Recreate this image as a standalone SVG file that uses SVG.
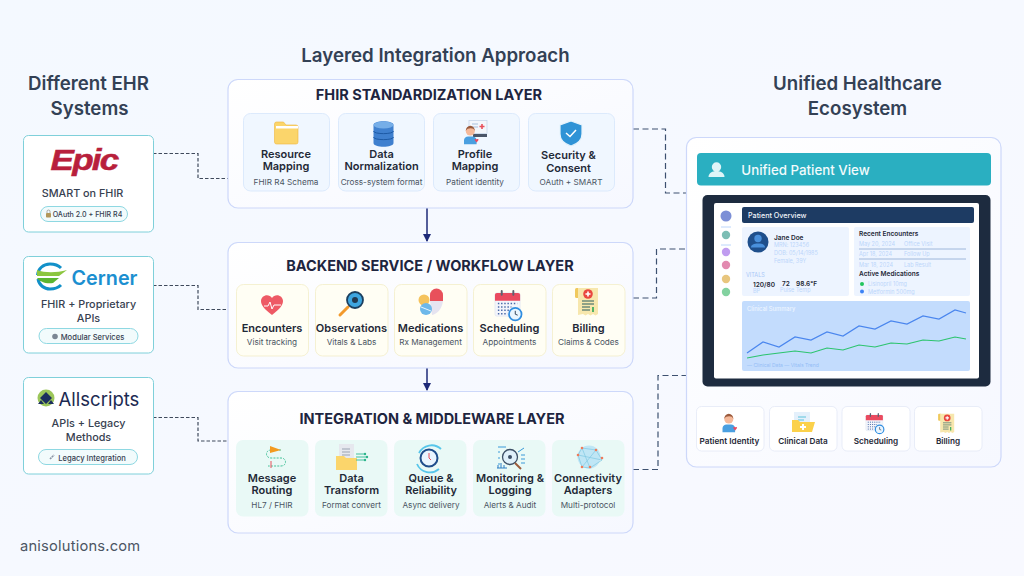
<svg xmlns="http://www.w3.org/2000/svg" xmlns:xlink="http://www.w3.org/1999/xlink" width="1024" height="576" viewBox="0 0 1024 576">
<style>
text{font-family:Inter,"Noto Sans","Liberation Sans",sans-serif;text-anchor:middle}
.h{font-size:18.700px;font-weight:600;fill:#334155}
.lt{font-size:14.500px;font-weight:700;fill:#1e2540}
.cn{font-size:11px;font-weight:600;fill:#1f2937}
.cs{font-size:8.200px;fill:#4b5563}
.ehr{font-size:10.800px;font-weight:500;fill:#374151}
.pill{font-size:7.600px;font-weight:500;fill:#374151}
.pt{fill:#fff;stroke:#7fd0da;stroke-width:1}
.pb{fill:#f2fbfc;stroke:#8ed8e2;stroke-width:1}
.layer{fill:url(#lg);stroke:#cdd8fa;stroke-width:1.200}
.cb{fill:#f0f7ff;stroke:#d5e6fb;stroke-width:.8}
.cy{fill:#fffef4;stroke:#f3edc8;stroke-width:.8}
.cg{fill:#e9f9f6}
.d{fill:none;stroke:#3f4a5c;stroke-width:1.200;stroke-dasharray:3.500 2}
.r{fill:none;stroke:#3d5170;stroke-width:1.200;stroke-dasharray:6 3.500}
.a{stroke:#1e2a78;stroke-width:1.500;fill:none}
.mut{font-size:5.500px;fill:#bcd6fb;text-anchor:start}
.dk{font-size:6.500px;font-weight:600;fill:#1f2937;text-anchor:start}
.bc{fill:#fff;stroke:#e3e9f6;stroke-width:.8}
.bt{font-size:8.200px;font-weight:600;fill:#1f2937}
</style>
<defs>
<linearGradient id="lg" x1="0" y1="0" x2="1" y2="1"><stop offset="0" stop-color="#ffffff"/><stop offset="1" stop-color="#f6f8ff"/></linearGradient>
<linearGradient id="bg" x1="0" y1="0" x2="1" y2="1"><stop offset="0" stop-color="#f4f9ff"/><stop offset="1" stop-color="#f8f9ff"/></linearGradient>
<marker id="ah" markerWidth="9" markerHeight="8" refX="7" refY="4" orient="auto" markerUnits="userSpaceOnUse"><path d="M0 0L8 4L0 8Z" fill="#1e2a78"/></marker>
<symbol id="cal" viewBox="0 0 30 32" overflow="visible">
<rect x="1" y="3" width="26" height="24" rx="2" fill="#f3f5fb" stroke="#d5dcec" stroke-width=".5"/>
<path d="M1 5a2 2 0 0 1 2-2h22a2 2 0 0 1 2 2v6H1z" fill="#ea4a5f"/>
<rect x="7" y="0" width="2" height="6" rx="1" fill="#5b6270"/><rect x="19" y="0" width="2" height="6" rx="1" fill="#5b6270"/>
<path d="M4 14h20M4 17.500h14M4 21h12M4 24.500h10" stroke="#4a6aa8" stroke-width="1.500" stroke-dasharray="1.500 1.800"/>
<circle cx="22" cy="25" r="6.500" fill="#e9f5ff" stroke="#2f8de0" stroke-width="1.800"/><path d="M22 21.500V25l2.500 1" stroke="#334155" stroke-width="1" fill="none"/>
</symbol>
<symbol id="bill" viewBox="0 0 24 30" overflow="visible">
<rect x="0" y="1" width="5" height="10" rx="1.500" fill="#f0c95c"/>
<path d="M3 1h20v26l-2.500 1.500L18 27l-2.500 1.500L13 27l-2.500 1.500L8 27l-5 1z" fill="#f7e7ad"/>
<circle cx="13" cy="7" r="4.800" fill="#e9473f"/><path d="M13 4.500v5M10.500 7h5" stroke="#fff" stroke-width="1.600"/>
<path d="M7 14h12M7 17h12M7 20h8M7 23h8" stroke="#6d8a7a" stroke-width="1.300"/><path d="M18 20v5" stroke="#2aa857" stroke-width="1.600"/>
</symbol>
<symbol id="person" viewBox="0 0 26 30" overflow="visible">
<path d="M3 29v-6a6 6 0 0 1 6-5h6a6 6 0 0 1 6 5v6z" fill="#4a9fe0"/>
<circle cx="12" cy="10" r="6.500" fill="#f5b99a"/>
<path d="M5.500 10a6.500 7.500 0 0 1 13 0c-1-3-3-4-6-4s-6 1-7 4z" fill="#9a5a3c"/>
<path d="M19 24c-2-2 0-3.500 2-2 2-1.500 4 0 2 2l-2 2.500z" fill="#ea4a5f"/>
</symbol>
</defs>
<rect width="1024" height="576" fill="url(#bg)"/>

<text class="h" x="435.500" y="62">Layered Integration Approach</text>
<text class="h" x="88.500" y="90">Different EHR</text><text class="h" x="89.500" y="115">Systems</text>
<text class="h" x="857.500" y="90">Unified Healthcare</text><text class="h" x="857.500" y="115">Ecosystem</text>

<g id="connectors">
<path class="d" d="M153 153.500H198V178.500H228"/>
<path class="d" d="M153 285.500H198V309.500H228"/>
<path class="d" d="M153 417.500H198V441H228"/>
<path class="r" d="M633 129H665.500V193H686"/>
<path class="r" d="M633 298H656.500V249H686"/>
<path class="r" d="M633 469.500H658V375.500H686"/>
<path class="a" d="M427 208V241" marker-end="url(#ah)"/>
<path class="a" d="M427 368V390" marker-end="url(#ah)"/>
</g>

<g id="epic">
<rect class="pt" x="23.500" y="135.500" width="130" height="96.500" rx="5"/>
<text transform="translate(84 170) scale(1.210 1)" style="font-family:'Liberation Sans',sans-serif;font-size:29px;font-weight:700;font-style:italic;fill:#b81f3c;stroke:#b81f3c;stroke-width:.5;letter-spacing:-1.500px">Epic</text>
<text class="ehr" x="82.500" y="197">SMART on FHIR</text>
<rect class="pb" x="40.500" y="206.500" width="87" height="15" rx="7.500"/>
<rect x="46" y="213" width="5" height="4.500" rx=".8" fill="#b3985a"/><path d="M47 213v-1.500a1.500 1.500 0 0 1 3 0V213" stroke="#8a8a8a" stroke-width=".7" fill="none"/>
<text class="pill" x="87.500" y="217" style="font-size:7.100px">OAuth 2.0 + FHIR R4</text>
</g>
<g id="cerner">
<rect class="pt" x="23.500" y="256.500" width="130" height="96.500" rx="5"/>
<path d="M61 268c-3-3-7-4-11-4-7 0-12 5-12.500 11M38 279c1 6 6 10 12 10 4 0 8-1 11-4" fill="none" stroke="#1290c9" stroke-width="3"/>
<path d="M37 270c8 3 19 3 30 0l-8 6H37z" fill="#8cc63f"/><path d="M37 278h22l-6 5c-7 1-13-1-16-5z" fill="#5cb531"/>
<text x="104.500" y="285" style="font-size:19.800px;font-weight:600;fill:#1b8fd0">Cerner</text>
<text class="ehr" x="88.500" y="308">FHIR + Proprietary</text><text class="ehr" x="88.500" y="322">APIs</text>
<rect class="pb" x="39" y="328.500" width="99" height="15" rx="7.500"/>
<circle cx="55" cy="336.500" r="2.800" fill="#7b8794"/>
<text class="pill" x="92.500" y="339.500">Modular Services</text>
</g>
<g id="allscripts">
<rect class="pt" x="23.500" y="377.500" width="130" height="96.500" rx="5"/>
<circle cx="46" cy="398" r="8.500" fill="#9cc65a"/><path d="M46 392l6 6-6 6-6-6zM41 400l3 4h-6zM51 400l3 4h-6z" fill="#1c2f5e"/>
<text x="99" y="406" style="font-size:18.500px;font-weight:400;fill:#1c2a52">Allscripts</text>
<text class="ehr" x="88.500" y="427">APIs + Legacy</text><text class="ehr" x="88.500" y="441">Methods</text>
<rect class="pb" x="38.500" y="449.500" width="99" height="15" rx="7.500"/>
<path d="M50 459l4-4" stroke="#8a95a5" stroke-width="1.600" stroke-dasharray="2 .6"/>
<text class="pill" x="92" y="460.500">Legacy Integration</text>
</g>

<g id="layer-fhir">
<rect class="layer" x="228" y="79.500" width="405" height="128.500" rx="10"/>
<text class="lt" x="429" y="100">FHIR STANDARDIZATION LAYER</text>
<rect class="cb" x="243.500" y="113.500" width="86" height="77.500" rx="7"/>
<path d="M274.500 124a2 2 0 0 1 2-2h7l2.500 3h10a2 2 0 0 1 2 2v15a2 2 0 0 1-2 2h-19.500a2 2 0 0 1-2-2z" fill="#fbd56b" stroke="#f0b73c" stroke-width=".6"/><rect x="276" y="126" width="22" height="2.500" fill="#fff"/>
<text class="cn" x="286" y="158">Resource</text><text class="cn" x="286" y="170">Mapping</text><text class="cs" x="286" y="185">FHIR R4 Schema</text>
<rect class="cb" x="338.500" y="113.500" width="86" height="77.500" rx="7"/>
<path d="M373.500 125c0-5 20-5 20 0v18c0 5-20 5-20 0z" fill="#3f80cf"/><ellipse cx="383.500" cy="125" rx="10" ry="3.500" fill="#76aee8"/><path d="M373.500 131c0 3.500 20 3.500 20 0M373.500 137c0 3.500 20 3.500 20 0" stroke="#1d5aa5" stroke-width="1" fill="none"/>
<text class="cn" x="381.500" y="158">Data</text><text class="cn" x="381.500" y="170">Normalization</text><text class="cs" x="381.500" y="185">Cross-system format</text>
<rect class="cb" x="433.500" y="113.500" width="86" height="77.500" rx="7"/>
<rect x="469" y="120.500" width="18" height="13" fill="#f3f6fb" stroke="#b8cbe3" stroke-width=".6"/><path d="M482 124v5M479.500 126.500h5" stroke="#e8505b" stroke-width="1.600"/><path d="M472 124h6M472 127h6" stroke="#a8c0dc"/><rect x="473" y="134" width="14" height="3" fill="#4a5568"/>
<use href="#person" x="461" y="124" width="20" height="21"/>
<text class="cn" x="475" y="158">Profile</text><text class="cn" x="475" y="170">Mapping</text><text class="cs" x="475" y="185">Patient identity</text>
<rect class="cb" x="528.500" y="113.500" width="86" height="77.500" rx="7"/>
<path d="M571 121l11 4v9c0 6-5 10-11 12-6-2-11-6-11-12v-9z" fill="#2f93d6" stroke="#e6f3fc" stroke-width="1.200"/><path d="M566 133l4 3.500 6-6.500" stroke="#fff" stroke-width="1.500" fill="none"/>
<text class="cn" x="568.500" y="159">Security &amp;</text><text class="cn" x="568.500" y="172">Consent</text><text class="cs" x="571" y="185">OAuth + SMART</text>
</g>

<g id="layer-backend">
<rect class="layer" x="228" y="242.500" width="405" height="125.500" rx="10"/>
<text class="lt" x="430" y="271">BACKEND SERVICE / WORKFLOW LAYER</text>
<rect class="cy" x="236.500" y="284.500" width="72" height="71.500" rx="7"/>
<path d="M272 315c-8-6-11-10-11-14 0-6 8-8 11-3 3-5 11-3 11 3 0 4-3 8-11 14z" fill="#ee5a65"/><path d="M264 306h4l2-4 2 7 2-4h7" stroke="#fff" stroke-width="1" fill="none"/>
<text class="cn" x="272" y="332">Encounters</text><text class="cs" x="272" y="345">Visit tracking</text>
<rect class="cy" x="315.500" y="284.500" width="72.500" height="71.500" rx="7"/>
<path d="M340 315l8-8" stroke="#f39a2c" stroke-width="3" stroke-linecap="round"/><circle cx="355" cy="300" r="8" fill="#3ea6e0" stroke="#1c3f5e" stroke-width="1.800"/><circle cx="355" cy="300" r="3" fill="#22394f"/>
<text class="cn" x="351.500" y="332">Observations</text><text class="cs" x="351.500" y="345">Vitals &amp; Labs</text>
<rect class="cy" x="394.500" y="284.500" width="72.500" height="71.500" rx="7"/>
<path d="M430 295a6.500 6.500 0 0 1 13 0v6h-13z" fill="#e8505b"/><path d="M430 301h13c-1 8-6 13-11 14z" fill="#e6e4f0"/><circle cx="424" cy="300" r="5.500" fill="#f5c35c"/><circle cx="426" cy="309" r="6" fill="#6db8ea"/><path d="M421 307l10 4" stroke="#e8f5ff"/>
<text class="cn" x="430.500" y="332">Medications</text><text class="cs" x="430.500" y="345">Rx Management</text>
<rect class="cy" x="473.500" y="284.500" width="72.500" height="71.500" rx="7"/>
<use href="#cal" x="494" y="290" width="29" height="31"/>
<text class="cn" x="509.500" y="332">Scheduling</text><text class="cs" x="509.500" y="345">Appointments</text>
<rect class="cy" x="552.500" y="284.500" width="72.500" height="71.500" rx="7"/>
<use href="#bill" x="575" y="287" width="24" height="30"/>
<text class="cn" x="588.500" y="332">Billing</text><text class="cs" x="588.500" y="345">Claims &amp; Codes</text>
</g>

<g id="layer-integration">
<rect class="layer" x="228" y="391.500" width="405" height="141.500" rx="10"/>
<text class="lt" x="432" y="424">INTEGRATION &amp; MIDDLEWARE LAYER</text>
<rect class="cg" x="236" y="440" width="72.500" height="76.500" rx="7"/>
<path d="M281 450h-10c-6 0-6 8 0 8h10c6 0 6 8 0 8h-13" fill="none" stroke="#45c29a" stroke-width="1" stroke-dasharray="2 1.200"/><path d="M270 446l11 4-11 3z" fill="#f39a1f"/><path d="M271 461v7" stroke="#e8505b"/>
<text class="cn" x="272" y="482">Message</text><text class="cn" x="272" y="494">Routing</text><text class="cs" x="272" y="508">HL7 / FHIR</text>
<rect class="cg" x="315" y="440" width="72.500" height="76.500" rx="7"/>
<rect x="339" y="444" width="15" height="20" fill="#e6e8ee"/><path d="M342 449h8M342 452h8M342 455h8" stroke="#9aa3b2"/><path d="M336 456h8l2 2h11v12h-21z" fill="#fbd56b"/><path d="M356 454h8M356 457h10M356 460h8" stroke="#43bf9c"/><circle cx="365" cy="454" r="1.200" fill="#2ab58b"/><circle cx="367" cy="457" r="1.200" fill="#2ab58b"/><circle cx="365" cy="460" r="1.200" fill="#2ab58b"/>
<text class="cn" x="351.500" y="482">Data</text><text class="cn" x="351.500" y="494">Transform</text><text class="cs" x="351.500" y="508">Format convert</text>
<rect class="cg" x="394" y="440" width="72.500" height="76.500" rx="7"/>
<path d="M441 449a14 14 0 0 0-22 4M417 464a14 14 0 0 0 22 5" fill="none" stroke="#56c6ea" stroke-width="1.800"/><circle cx="429" cy="458" r="8.500" fill="#e9f5ff" stroke="#1f4e8c" stroke-width="2"/><path d="M429 453v5l2 2" stroke="#e8505b" stroke-width="1" fill="none"/>
<text class="cn" x="431" y="482">Queue &amp;</text><text class="cn" x="431" y="494">Reliability</text><text class="cs" x="431" y="508">Async delivery</text>
<rect class="cg" x="473" y="440" width="72.500" height="76.500" rx="7"/>
<circle cx="510" cy="457" r="7.500" fill="#dff0fa" stroke="#3c4f66" stroke-width="1.300"/><circle cx="510" cy="457" r="2" fill="#3c4f66"/><path d="M515 463l6 6" stroke="#9b5c3c" stroke-width="2"/><path d="M498 447h8M498 452h2M498 458h2M498 464h2M518 452l6-4M521 455h4M521 459h4M521 463h4" stroke="#3a9ad9"/><path d="M497 468h10M498 468v-3M501 468v-5M504 468v-3" stroke="#2d7fc4"/>
<text class="cn" x="510" y="482">Monitoring &amp;</text><text class="cn" x="510" y="494">Logging</text><text class="cs" x="510" y="508">Alerts &amp; Audit</text>
<rect class="cg" x="552" y="440" width="72.500" height="76.500" rx="7"/>
<circle cx="589" cy="457" r="11.500" fill="#bfe6f5"/><path d="M582 448l14 2 6 10-12 8-8-1-4-12zM582 448l8 20M596 450l-14 17M578 455l24 5" fill="none" stroke="#7fc8e3" stroke-width=".7"/><g fill="#ef7b5a"><circle cx="582" cy="448" r="1.300"/><circle cx="596" cy="450" r="1.300"/><circle cx="602" cy="458" r="1.300"/><circle cx="590" cy="467" r="1.300"/><circle cx="582" cy="467" r="1.300"/><circle cx="578" cy="455" r="1.300"/></g>
<text class="cn" x="588" y="482">Connectivity</text><text class="cn" x="588" y="494">Adapters</text><text class="cs" x="588" y="508">Multi-protocol</text>
</g>

<g id="unified-panel">
<rect class="layer" x="686.500" y="137.500" width="314.500" height="329.500" rx="10"/>
<rect x="697" y="153" width="294" height="32.500" rx="4" fill="#2aafc1"/>
<circle cx="716.500" cy="167" r="4.700" fill="#dff5f8"/><path d="M708.500 177c0-4 4-6 8-6s8 2 8 6z" fill="#dff5f8"/>
<text x="805.500" y="175" style="font-size:13.300px;font-weight:500;fill:#f2fbfc">Unified Patient View</text>
</g>
<g id="patient-screen">
<rect x="702.500" y="195" width="288" height="191.500" rx="5" fill="#1d2b3f"/>
<rect x="714" y="203" width="265" height="175.500" rx="2" fill="#fff"/>
<circle cx="726" cy="216" r="5.500" fill="#7c8fd6"/><path d="M721 227h10M721 245h10" stroke="#bcd6fb" stroke-width="1"/>
<circle cx="726" cy="235" r="4.200" fill="#7cbdb4"/><circle cx="726" cy="252" r="4.200" fill="#c09cf0"/><circle cx="726" cy="265" r="4.200" fill="#e28ab0"/><circle cx="726" cy="279" r="4.200" fill="#e8c67e"/><circle cx="726" cy="292" r="4.200" fill="#83d2a0"/>
<rect x="742" y="207" width="232" height="16" rx="2" fill="#1d3b63"/>
<text x="748" y="218" style="font-size:7.200px;font-weight:500;fill:#f1f5fb;text-anchor:start">Patient Overview</text>
<rect x="742" y="227" width="107" height="69" rx="2" fill="#edf4ff"/>
<circle cx="758" cy="242" r="10.500" fill="#1f4f8c"/><circle cx="758" cy="238.500" r="3.700" fill="#4a90dc"/><path d="M751 247.500c0-3 3-4 7-4s7 1 7 4z" fill="#4a90dc"/>
<text class="dk" x="774" y="240">Jane Doe</text>
<text class="mut" x="774" y="247">MRN: 123456</text><text class="mut" x="774" y="255">DOB: 05/14/1985</text><text class="mut" x="774" y="263">Female, 39Y</text>
<text x="746" y="277" style="font-size:5.500px;fill:#a9c8f7;text-anchor:start">VITALS</text>
<text class="dk" x="753" y="287">120/80</text><text class="dk" x="782" y="286">72</text><text class="dk" x="796" y="286">98.6°F</text>
<text class="mut" x="753" y="293">BP</text><text class="mut" x="780" y="292">Pulse</text><text class="mut" x="796" y="292">Temp</text>
<rect x="854" y="227" width="116" height="69" rx="2" fill="#edf4ff"/>
<text class="dk" x="859" y="236">Recent Encounters</text>
<text class="mut" x="859" y="246">May 20, 2024</text><text class="mut" x="904" y="246">Office Visit</text>
<path d="M859 249H966M859 259H966" stroke="#8aa8d2" stroke-width=".8"/>
<text class="mut" x="859" y="256">Apr 18, 2024</text><text class="mut" x="904" y="256">Follow Up</text>
<text class="mut" x="859" y="267">Mar 18, 2024</text><text class="mut" x="904" y="267">Lab Result</text>
<text class="dk" x="859" y="276">Active Medications</text>
<circle cx="862" cy="284" r="2" fill="#22c55e"/><circle cx="862" cy="291.500" r="2" fill="#3b82f6"/>
<text class="mut" x="868" y="286">Lisinopril 10mg</text><text class="mut" x="868" y="294">Metformin 500mg</text>
<rect x="742" y="301" width="228" height="70" rx="2" fill="#c3dcfd"/>
<text x="747" y="311" style="font-size:5.800px;font-weight:500;fill:#edf5ff;text-anchor:start">Clinical Summary</text>
<path d="M747 353L763 342L779 347L795 337L811 340L827 332L843 336L859 326L875 329L891 321L907 324L923 316L939 319L955 310L966 313" fill="none" stroke="#4a86ee" stroke-width="1.200"/>
<path d="M747 358L763 355L779 353L795 351L811 353L827 348L843 350L859 345L875 347L891 343L907 344L923 340L939 341L955 337L966 339" fill="none" stroke="#2cc46e" stroke-width="1.200"/>
<text x="747" y="367" style="font-size:5px;fill:#94bcf6;text-anchor:start">— Clinical Data — Vitals Trend</text>
</g>
<g id="patient-identity">
<rect class="bc" x="696.500" y="406.500" width="67.500" height="44.500" rx="5"/>
<use href="#person" x="720" y="412" width="19" height="21"/>
<text class="bt" x="729.500" y="444">Patient Identity</text>
</g>
<g id="clinical-data">
<rect class="bc" x="769.500" y="406.500" width="67.500" height="44.500" rx="5"/>
<rect x="794" y="412" width="16" height="14" fill="#e4f0fb"/><path d="M798 417h8M798 420h6" stroke="#5cc4dc"/><path d="M792 420h6l2 2h15l-3 10h-20z" fill="#fbd14b"/><path d="M803 424v6M800 427h6" stroke="#fff" stroke-width="2"/>
<text class="bt" x="803" y="444">Clinical Data</text>
</g>
<g id="scheduling">
<rect class="bc" x="842" y="406.500" width="68" height="44.500" rx="5"/>
<use href="#cal" x="865" y="413" width="20" height="21"/>
<text class="bt" x="876" y="444">Scheduling</text>
</g>
<g id="billing">
<rect class="bc" x="914.500" y="406.500" width="67.500" height="44.500" rx="5"/>
<use href="#bill" x="938" y="413" width="17" height="21"/>
<text class="bt" x="948" y="444">Billing</text>
</g>
<text x="20" y="551" style="font-size:14.700px;font-weight:400;fill:#4b5563;text-anchor:start;letter-spacing:.2px">anisolutions.com</text>
</svg>
